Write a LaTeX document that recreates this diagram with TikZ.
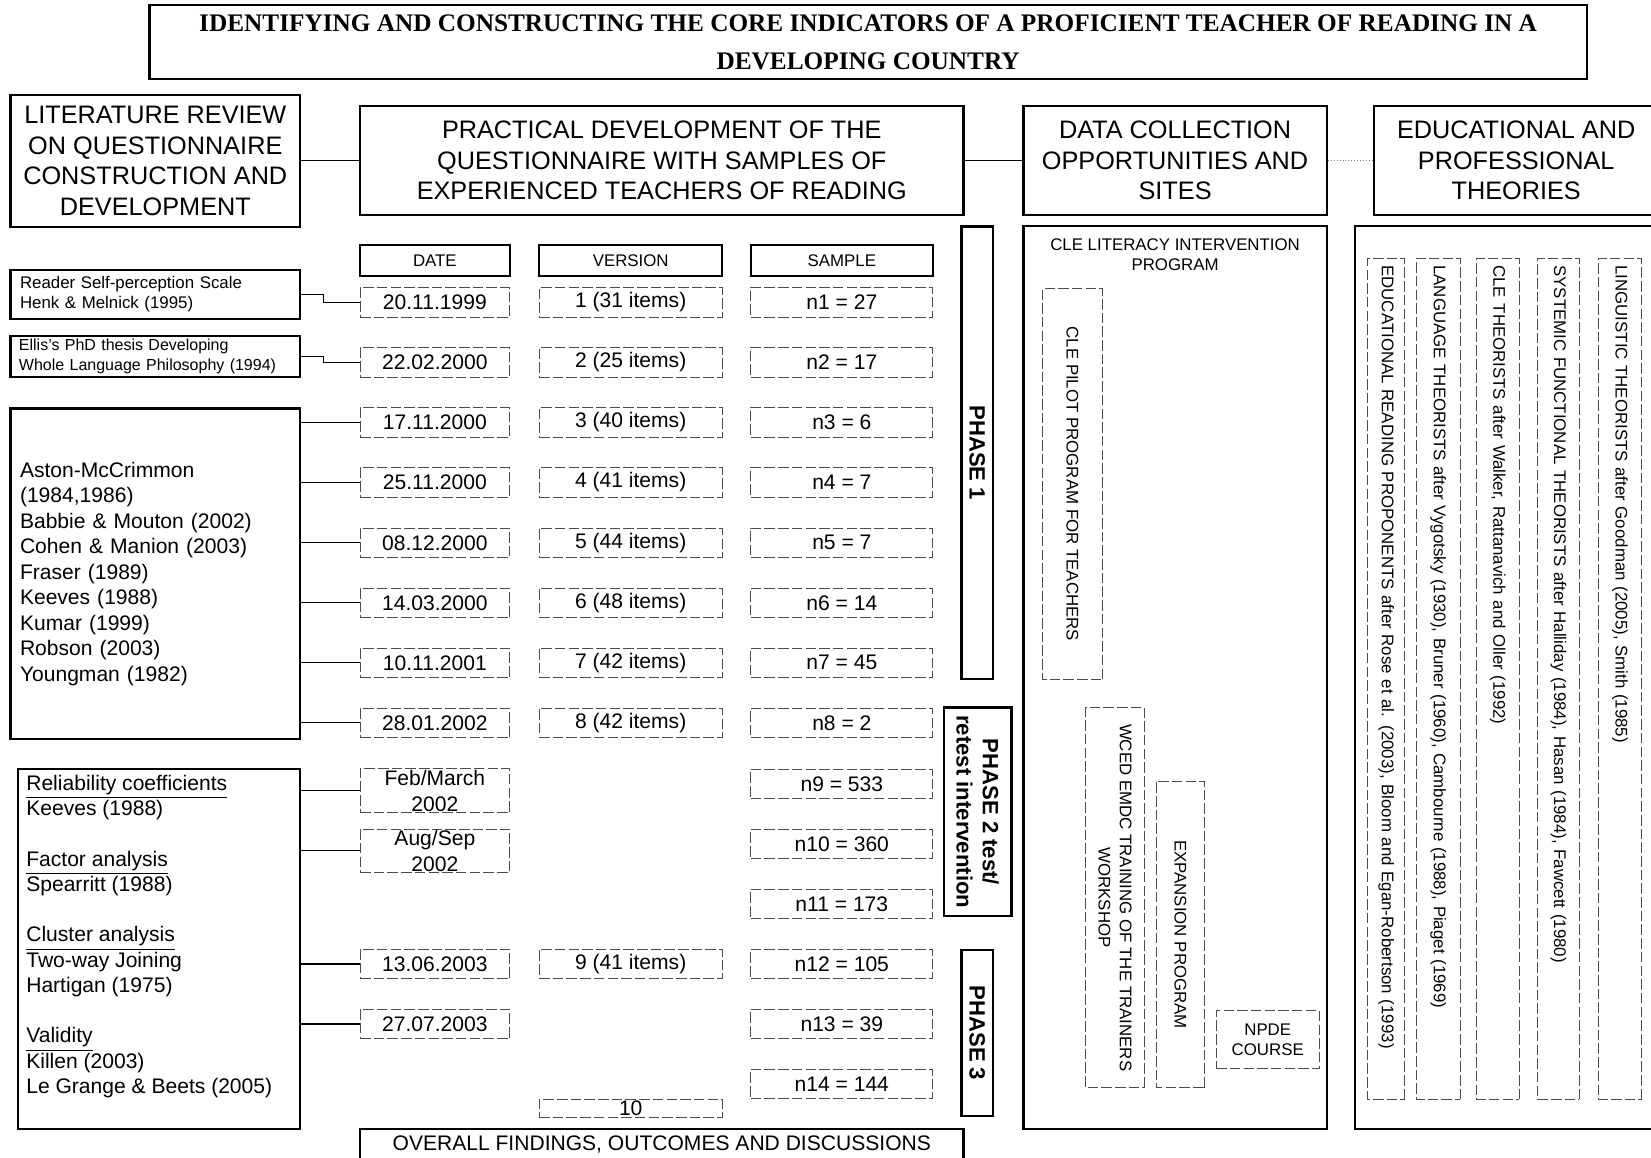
\documentclass[tikz,border=0pt]{standalone}
\usepackage{fontspec}
\setmainfont{Liberation Sans}
\newfontfamily\titlefont{Liberation Serif}

\newcommand{\txtsize}[2]{\fontsize{#1pt}{#2pt}\selectfont}

\begin{document}
\begin{tikzpicture}[
  x=0.5pt,
  y=-0.5pt,
  every node/.style={inner sep=0pt, align=center},
  titlebox/.style={
    draw,
    line width=1pt,
    font=\titlefont\bfseries\txtsize{12}{18},
    minimum width=682.5pt,
    minimum height=35pt
  },
  headbox/.style={
    draw,
    line width=1pt,
    font=\txtsize{12}{14.5},
    minimum height=51.5pt
  },
  colhead/.style={
    draw,
    line width=1pt,
    font=\txtsize{8}{9},
    minimum height=14.5pt
  },
  cell/.style={
    draw=black!70,
    dash pattern=on 5pt off 1.5pt,
    line width=0.4pt,
    font=\txtsize{10}{12.5},
    minimum height=14pt
  },
  datecell/.style={cell, minimum width=71pt},
  vercell/.style={cell, minimum width=87pt},
  samplecell/.style={cell, minimum width=86.5pt},
  litbox/.style={
    draw,
    line width=1pt,
    align=left,
    inner xsep=4.5pt
  },
  phasebox/.style={
    draw,
    line width=1.2pt,
    rotate=-90,
    font=\bfseries\txtsize{10.5}{12.5}
  },
  panel/.style={draw, line width=1pt},
  sitebox/.style={
    draw=black!70,
    dash pattern=on 5pt off 1.5pt,
    line width=0.4pt,
    rotate=-90,
    font=\txtsize{8}{10}
  },
  theorybox/.style={
    draw=black!70,
    dash pattern=on 5pt off 1.5pt,
    line width=0.4pt,
    rotate=-90,
    font=\txtsize{8}{10},
    minimum width=399.5pt,
    inner xsep=3.5pt,
    text width=392.5pt,
    align=left
  },
  link/.style={line width=0.5pt},
  weaklink/.style={line width=0.4pt, densely dotted, black!50}
]
\useasboundingbox (0,0) rectangle (1568,1099);

% title and column headings
\node[titlebox] (title) at (824.5,40) {IDENTIFYING AND CONSTRUCTING THE CORE INDICATORS OF A PROFICIENT TEACHER OF READING IN A\\DEVELOPING COUNTRY};

\node[headbox, minimum width=137.5pt, minimum height=63pt] (litreview) at (147.5,153) {LITERATURE REVIEW\\ON QUESTIONNAIRE\\CONSTRUCTION AND\\DEVELOPMENT};
\node[headbox, minimum width=286.5pt] (practical) at (628.5,152.5) {PRACTICAL DEVELOPMENT OF THE\\QUESTIONNAIRE WITH SAMPLES OF\\EXPERIENCED TEACHERS OF READING};
\node[headbox, minimum width=144pt] (datacoll) at (1116,152.5) {DATA COLLECTION\\OPPORTUNITIES AND\\SITES};
\node[headbox, minimum width=135pt] (theories) at (1440,152.5) {EDUCATIONAL AND\\PROFESSIONAL\\THEORIES};

% literature boxes
\node[litbox, font=\txtsize{8}{9.5}, text width=128.5pt, minimum height=23.5pt] (reader) at (147.5,279.5) {Reader Self-perception Scale\\Henk \& Melnick (1995)};
\node[litbox, font=\txtsize{7.6}{9.5}, inner xsep=4pt, text width=129.5pt, minimum height=19.5pt] (ellis) at (147.5,338.5) {Ellis's PhD thesis Developing\\Whole Language Philosophy (1994)};
\node[litbox, font=\txtsize{10}{12.1}, text width=128.5pt, minimum height=157pt] (sources) at (147.5,545) {Aston-McCrimmon\\(1984,1986)\\Babbie \& Mouton (2002)\\Cohen \& Manion (2003)\\Fraser (1989)\\Keeves (1988)\\Kumar (1999)\\Robson (2003)\\Youngman (1982)};
\node[litbox, font=\txtsize{10}{12}, inner xsep=4pt, minimum height=171pt] (stats) at (151,901) {\parbox[c][165pt][t]{126pt}{\raggedright\underline{Reliability coefficients}\\Keeves (1988)\\[12pt]\underline{Factor analysis}\\Spearritt (1988)\\[12pt]\underline{Cluster analysis}\\Two-way Joining\\Hartigan (1975)\\[12pt]\underline{Validity}\\Killen (2003)\\Le Grange \& Beets (2005)}};

% questionnaire table
\node[colhead, minimum width=71pt] (hdate) at (413,247.5) {DATE};
\node[colhead, minimum width=87pt] (hversion) at (599,247.5) {VERSION};
\node[colhead, minimum width=86.5pt] (hsample) at (799.5,247.5) {SAMPLE};

\node[datecell] (date1) at (413,287) {20.11.1999};
\node[datecell] (date2) at (413,344) {22.02.2000};
\node[datecell] (date3) at (413,401) {17.11.2000};
\node[datecell] (date4) at (413,458) {25.11.2000};
\node[datecell] (date5) at (413,515.5) {08.12.2000};
\node[datecell] (date6) at (413,572.5) {14.03.2000};
\node[datecell] (date7) at (413,629.5) {10.11.2001};
\node[datecell] (date8) at (413,686.5) {28.01.2002};
\node[datecell, minimum height=21pt] (date9) at (413,751) {Feb/March\\2002};
\node[datecell, minimum height=20.5pt] (date10) at (413,808) {Aug/Sep\\2002};
\node[datecell] (date11) at (413,915.5) {13.06.2003};
\node[datecell] (date12) at (413,972.5) {27.07.2003};

\node[vercell] (ver1) at (599,287) {1 (31 items)};
\node[vercell] (ver2) at (599,344) {2 (25 items)};
\node[vercell] (ver3) at (599,401) {3 (40 items)};
\node[vercell] (ver4) at (599,458) {4 (41 items)};
\node[vercell] (ver5) at (599,515.5) {5 (44 items)};
\node[vercell] (ver6) at (599,572.5) {6 (48 items)};
\node[vercell] (ver7) at (599,629.5) {7 (42 items)};
\node[vercell] (ver8) at (599,686.5) {8 (42 items)};
\node[vercell] (ver9) at (599,915.5) {9 (41 items)};
\node[vercell, minimum height=8.5pt] (ver10) at (599,1052.5) {10};

\node[samplecell] (samp1) at (799.5,287) {n1 = 27};
\node[samplecell] (samp2) at (799.5,344) {n2 = 17};
\node[samplecell] (samp3) at (799.5,401) {n3 = 6};
\node[samplecell] (samp4) at (799.5,458) {n4 = 7};
\node[samplecell] (samp5) at (799.5,515.5) {n5 = 7};
\node[samplecell] (samp6) at (799.5,572.5) {n6 = 14};
\node[samplecell] (samp7) at (799.5,629.5) {n7 = 45};
\node[samplecell] (samp8) at (799.5,686.5) {n8 = 2};
\node[samplecell] (samp9) at (799.5,744.5) {n9 = 533};
\node[samplecell] (samp10) at (799.5,801.5) {n10 = 360};
\node[samplecell] (samp11) at (799.5,858.5) {n11 = 173};
\node[samplecell] (samp12) at (799.5,915.5) {n12 = 105};
\node[samplecell] (samp13) at (799.5,972.5) {n13 = 39};
\node[samplecell] (samp14) at (799.5,1029.5) {n14 = 144};

\node[draw, line width=1pt, font=\txtsize{10}{12}, minimum width=286.5pt, minimum height=15pt] (findings) at (628.5,1087) {OVERALL FINDINGS, OUTCOMES AND DISCUSSIONS};

% phases
\node[phasebox, minimum width=215pt, minimum height=15pt] (phase1) at (928,430) {PHASE 1};
\node[phasebox, minimum width=99pt, minimum height=32pt] (phase2) at (928.5,771) {PHASE 2 test/\\retest intervention};
\node[phasebox, minimum width=79pt, minimum height=15pt] (phase3) at (928,981) {PHASE 3};

% data collection sites
\node[panel, minimum width=144pt, minimum height=428.5pt] (sites) at (1116,643.5) {};
\node[font=\txtsize{8}{9.5}] (cletitle) at (1116,242) {CLE LITERACY INTERVENTION\\PROGRAM};
\node[sitebox, minimum width=185.5pt, minimum height=28.5pt] (pilot) at (1018.5,459.5) {CLE PILOT PROGRAM FOR TEACHERS};
\node[sitebox, minimum width=180.5pt, minimum height=28pt] (wced) at (1059,852.5) {WCED EMDC TRAINING OF THE TRAINERS\\WORKSHOP};
\node[sitebox, minimum width=145.5pt, minimum height=23pt] (expansion) at (1121,887.5) {EXPANSION PROGRAM};
\node[sitebox, rotate=90, minimum width=49pt, minimum height=27.5pt, font=\txtsize{8}{9.5}] (npde) at (1204,987.5) {NPDE\\COURSE};

% theories
\node[panel, minimum width=144pt, minimum height=428.5pt] (theorypanel) at (1431,643.5) {};
\node[theorybox, minimum height=17.5pt] (edureading) at (1316.5,644.5) {EDUCATIONAL READING PROPONENTS after Rose et al. (2003), Bloom and Egan-Robertson (1993)};
\node[theorybox, minimum height=21pt] (language) at (1366,644.5) {LANGUAGE THEORISTS after Vygotsky (1930), Bruner (1960), Cambourne (1988), Piaget (1969)};
\node[theorybox, minimum height=20.5pt] (cletheory) at (1422.5,644.5) {CLE THEORISTS after Walker, Rattanavich and Oller (1992)};
\node[theorybox, minimum height=20pt] (systemic) at (1480,644.5) {SYSTEMIC FUNCTIONAL THEORISTS after Halliday (1984), Hasan (1984), Fawcett (1980)};
\node[theorybox, minimum height=20.5pt] (linguistic) at (1538.5,644.5) {LINGUISTIC THEORISTS after Goodman (2005), Smith (1985)};

% connectors
\draw[link] (practical.west -| litreview.east) -- (practical.west);
\draw[link] (practical.east) -- (datacoll.west);
\draw[weaklink] (datacoll.east) -- (theories.west);

\draw[link] (reader.east) -- ++(21,0) |- (date1.west);
\draw[link] (ellis.east) -- ++(21,0) |- (date2.west);
\draw[link] (date3.west -| sources.east) -- (date3.west);
\draw[link] (date4.west -| sources.east) -- (date4.west);
\draw[link] (date5.west -| sources.east) -- (date5.west);
\draw[link] (date6.west -| sources.east) -- (date6.west);
\draw[link] (date7.west -| sources.east) -- (date7.west);
\draw[link] (date8.west -| sources.east) -- (date8.west);
\draw[link] (date9.west -| stats.east) -- (date9.west);
\draw[link] (date10.west -| stats.east) -- (date10.west);
\draw[link] (date11.west -| stats.east) -- (date11.west);
\draw[link] (date12.west -| stats.east) -- (date12.west);
\end{tikzpicture}
\end{document}
